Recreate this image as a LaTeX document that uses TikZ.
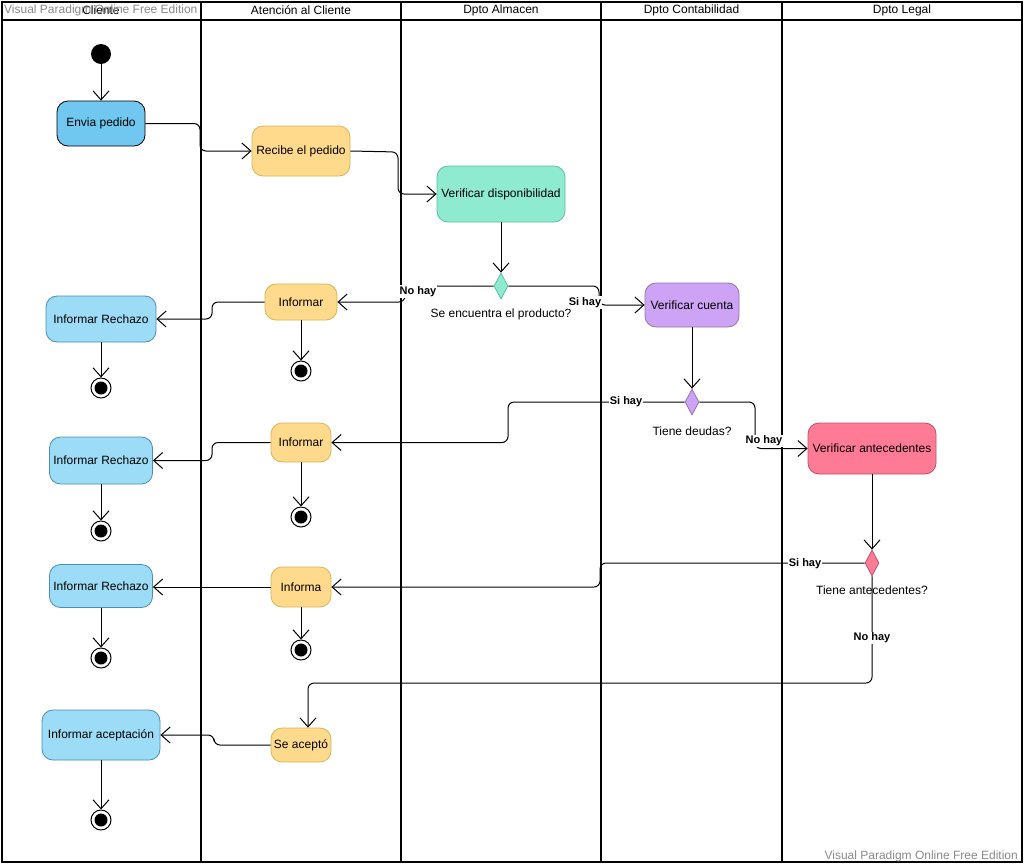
\documentclass[tikz,border=0pt]{standalone}
\usepackage{fontspec}
\setmainfont{Liberation Sans}
\usetikzlibrary{shapes.geometric,arrows.meta,calc}

\definecolor{inkline}{HTML}{000000}
\definecolor{wmgray}{HTML}{8A8A8A}
\definecolor{clientfill}{HTML}{70C7F0}
\definecolor{rejfill}{HTML}{9CDCF6}
\definecolor{rejline}{HTML}{4A8FAD}
\definecolor{yelfill}{HTML}{FFD98C}
\definecolor{yelline}{HTML}{D6B656}
\definecolor{mintfill}{HTML}{8EEBD0}
\definecolor{mintline}{HTML}{5DBF9E}
\definecolor{purfill}{HTML}{CDA4F5}
\definecolor{purline}{HTML}{9673A6}
\definecolor{pinkfill}{HTML}{FF7B95}
\definecolor{pinkline}{HTML}{B85470}

\tikzset{
  lane/.style={draw=inkline, line width=2pt},
  hdr/.style={font=\fontsize{12}{14}\selectfont, anchor=center},
  act/.style={rounded corners=11pt, inner sep=0pt, align=center,
              font=\fontsize{12}{14}\selectfont, line width=0.8pt},
  client/.style={act, fill=clientfill, draw=black},
  rej/.style={act, fill=rejfill, draw=rejline},
  yel/.style={act, fill=yelfill, draw=yelline},
  mint/.style={act, fill=mintfill, draw=mintline},
  pur/.style={act, fill=purfill, draw=purline},
  pink/.style={act, fill=pinkfill, draw=pinkline},
  dec/.style={diamond, minimum width=14pt, minimum height=26pt, aspect=0.54,
              inner sep=0pt, line width=0.8pt},
  startnode/.style={circle, fill=black, minimum size=20pt, inner sep=0pt},
  endnode/.style={circle, draw=black, fill=white, line width=1pt,
                  minimum size=20pt, inner sep=0pt,
                  path picture={\fill[black] (path picture bounding box.center) circle (6.5pt);}},
  flow/.style={draw=black, line width=1pt, rounded corners=6pt,
               -{Straight Barb[length=9pt, width=16pt, line width=1pt]}},
  cond/.style={font=\bfseries\fontsize{11}{13}\selectfont, fill=white, inner sep=1pt},
  qtext/.style={font=\fontsize{12}{14}\selectfont},
  wm/.style={font=\fontsize{12}{14}\selectfont, text=wmgray, inner sep=0pt},
}

\begin{document}
\begin{tikzpicture}[x=1pt,y=-1pt]
  % page
  \fill[white] (0,0) rectangle (1024,865);
  \useasboundingbox (0,0) rectangle (1024,865);

  % swimlane frame, header row and lane separators
  \draw[lane] (2,2) rectangle (1022,862);
  \draw[lane] (2,19.5) -- (1022,19.5);
  \foreach \lx in {201,401,601,782} \draw[lane] (\lx,2) -- (\lx,862);

  % lane titles
  \node[hdr] (hCliente) at (101,10.5) {Cliente};
  \node[hdr] (hAtencion) at (301,10.5) {Atención al Cliente};
  \node[hdr] (hAlmacen) at (501,10.5) {Dpto Almacen};
  \node[hdr] (hConta) at (691.5,10.5) {Dpto Contabilidad};
  \node[hdr] (hLegal) at (902,10.5) {Dpto Legal};

  % edition marks
  \node[wm, anchor=west] (wmTop) at (4,10.5) {Visual Paradigm Online Free Edition};
  \node[wm, anchor=east] (wmBottom) at (1018,856) {Visual Paradigm Online Free Edition};

  % ----- activities -----
  \node[startnode] (start) at (101,54) {};
  \node[client, minimum width=88pt, minimum height=45pt] (envia) at (101,123.5) {Envia pedido};
  \node[yel, minimum width=98pt, minimum height=50pt] (recibe) at (301,151) {Recibe el pedido};
  \node[mint, minimum width=128pt, minimum height=56pt] (verdisp) at (501,194) {Verificar disponibilidad};
  \node[dec, fill=mintfill, draw=mintline] (d1) at (501,286) {};
  \node[qtext] (q1) at (501,314) {Se encuentra el producto?};

  \node[yel, minimum width=72pt, minimum height=36pt] (inf1) at (301,302) {Informar};
  \node[rej, minimum width=110pt, minimum height=46pt] (rech1) at (101,319) {Informar Rechazo};
  \node[endnode] (end1a) at (101,388) {};
  \node[endnode] (end1b) at (301,371) {};

  \node[pur, minimum width=94pt, minimum height=44pt] (vcuenta) at (692,305) {Verificar cuenta};
  \node[dec, fill=purfill, draw=purline] (d2) at (692,402) {};
  \node[qtext] (q2) at (692,431) {Tiene deudas?};

  \node[yel, minimum width=60pt, minimum height=39pt] (inf2) at (301,442.5) {Informar};
  \node[rej, minimum width=103pt, minimum height=47pt] (rech2) at (101,460.5) {Informar Rechazo};
  \node[endnode] (end2a) at (101,531) {};
  \node[endnode] (end2b) at (301,517) {};

  \node[pink, minimum width=128pt, minimum height=51pt] (vante) at (872,448.5) {Verificar antecedentes};
  \node[dec, fill=pinkfill, draw=pinkline] (d3) at (872,563) {};
  \node[qtext] (q3) at (872,590) {Tiene antecedentes?};

  \node[yel, minimum width=60pt, minimum height=40pt] (inf3) at (301,587) {Informa};
  \node[rej, minimum width=103pt, minimum height=43pt] (rech3) at (101,586) {Informar Rechazo};
  \node[endnode] (end3a) at (101,658) {};
  \node[endnode] (end3b) at (301,650) {};

  \node[yel, minimum width=60pt, minimum height=34pt] (acepto) at (301,745) {Se aceptó};
  \node[rej, minimum width=118pt, minimum height=50pt] (racep) at (101,735) {Informar aceptación};
  \node[endnode] (end4) at (101,820) {};

  % ----- control flow -----
  \draw[flow] (start) -- (envia);
  \draw[flow] (envia.east) -- (200,123.5) -- (200,151) -- (recibe.west);
  \draw[flow] (recibe.east) -- (398,152) -- (398,194) -- (verdisp.west);
  \draw[flow] (verdisp.south) -- (d1.north);

  \draw[flow] (d1.west) -- (405,286) -- (405,302) -- (inf1.east);
  \draw[flow] (d1.east) -- (599,286) -- (599,305) -- (vcuenta.west);
  \node[cond] (c1n) at (418,291.5) {No hay};
  \node[cond] (c1s) at (585,302.5) {Si hay};

  \draw[flow] (inf1.west) -- (212,302) -- (212,319) -- (rech1.east);
  \draw[flow] (inf1.south) -- (end1b.north);
  \draw[flow] (rech1.south) -- (end1a.north);

  \draw[flow] (vcuenta.south) -- (d2.north);
  \draw[flow] (d2.west) -- (508,402) -- (508,442.5) -- (inf2.east);
  \draw[flow] (d2.east) -- (755,402) -- (755,448.5) -- (vante.west);
  \node[cond] (c2s) at (626,402) {Si hay};
  \node[cond] (c2n) at (764,441) {No hay};

  \draw[flow] (inf2.west) -- (212,442.5) -- (212,460.5) -- (rech2.east);
  \draw[flow] (inf2.south) -- (end2b.north);
  \draw[flow] (rech2.south) -- (end2a.north);

  \draw[flow] (vante.south) -- (d3.north);
  \draw[flow] (d3.west) -- (600,563) -- (600,587) -- (inf3.east);
  \draw[flow] (d3.south) -- (872,683) -- (308,683) -- ([xshift=7pt]acepto.north);
  \node[cond] (c3s) at (805,564) {Si hay};
  \node[cond] (c3n) at (872,638) {No hay};

  \draw[flow] (inf3.west) -- (rech3.east |- inf3.west);
  \draw[flow] (inf3.south) -- (end3b.north);
  \draw[flow] (rech3.south) -- (end3a.north);

  \draw[flow] (acepto.west) -- (214,745) -- (214,735) -- (racep.east);
  \draw[flow] (racep.south) -- (end4.north);
\end{tikzpicture}
\end{document}
